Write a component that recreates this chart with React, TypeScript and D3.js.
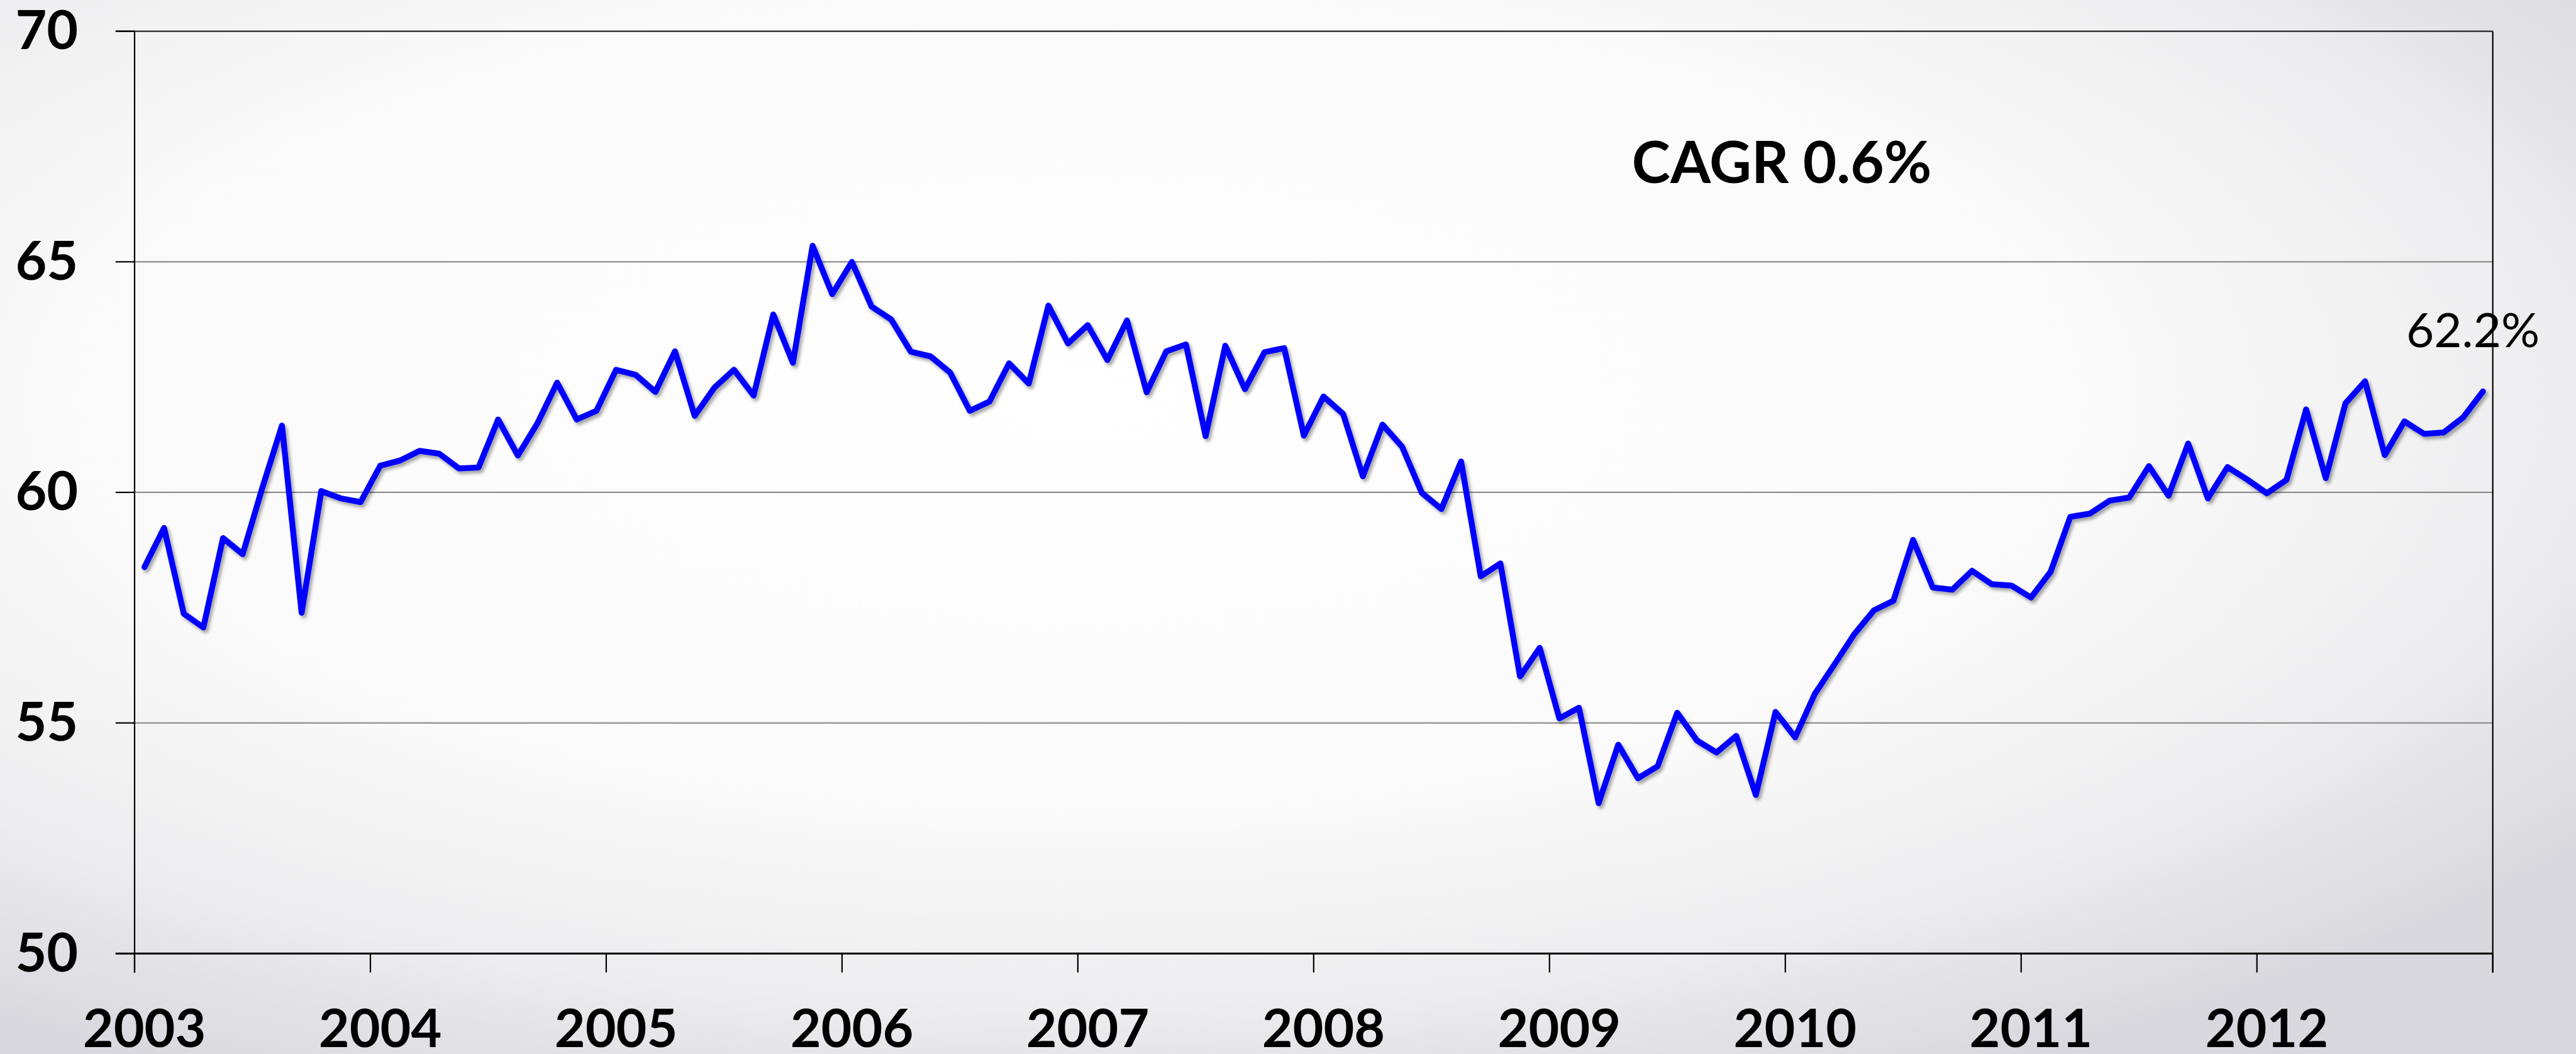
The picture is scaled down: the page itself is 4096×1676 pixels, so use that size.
import * as d3 from "d3";

const years = ["2003", "2004", "2005", "2006", "2007", "2008", "2009", "2010", "2011", "2012"];

// monthly values
const values2003 = [58.38, 59.23, 57.37, 57.07, 59.01, 58.66, 60.1, 61.45, 57.39, 60.03, 59.87, 59.79];
const values2004 = [60.58, 60.69, 60.9, 60.84, 60.52, 60.54, 61.58, 60.8, 61.5, 62.38, 61.58, 61.77];
const values2005 = [62.66, 62.55, 62.18, 63.06, 61.66, 62.27, 62.66, 62.1, 63.86, 62.81, 65.35, 64.3];
const values2006 = [65.0, 64.03, 63.75, 63.05, 62.95, 62.6, 61.77, 61.97, 62.8, 62.36, 64.05, 63.23];
const values2007 = [63.63, 62.87, 63.73, 62.17, 63.06, 63.21, 61.22, 63.18, 62.24, 63.04, 63.13, 61.23];
const values2008 = [62.08, 61.7, 60.35, 61.47, 60.99, 59.99, 59.64, 60.67, 58.18, 58.46, 56.01, 56.63];
const values2009 = [55.1, 55.33, 53.26, 54.53, 53.8, 54.06, 55.22, 54.62, 54.36, 54.72, 53.44, 55.24];
const values2010 = [54.69, 55.63, 56.27, 56.92, 57.44, 57.65, 58.97, 57.94, 57.89, 58.3, 58.01, 57.98];
const values2011 = [57.72, 58.28, 59.47, 59.54, 59.82, 59.89, 60.57, 59.93, 61.06, 59.87, 60.55, 60.28];
const values2012 = [59.98, 60.27, 61.8, 60.31, 61.93, 62.41, 60.81, 61.54, 61.27, 61.3, 61.63, 62.19];

const yTicks = [50, 55, 60, 65, 70];
const cagrLabel = "CAGR 0.6%";
const lastLabel = "62.2%";

const series = [
  ...values2003, ...values2004, ...values2005, ...values2006, ...values2007,
  ...values2008, ...values2009, ...values2010, ...values2011, ...values2012,
];

// reference-size canvas, scaled down by the viewBox
const W = 4614;
const H = 1888;
const left = 241;
const right = 4465;
const top = 56;
const bottom = 1708;
const font = "Lato, 'Open Sans', sans-serif";

export default function App() {
  const x = d3
    .scaleBand<number>()
    .domain(d3.range(series.length))
    .range([left, right])
    .padding(0);
  const y = d3.scaleLinear().domain([50, 70]).range([bottom, top]);
  const cx = (i: number) => (x(i) ?? 0) + x.bandwidth() / 2;

  const line = d3
    .line<number>()
    .x((_, i) => cx(i))
    .y((d) => y(d));

  const yearTicks = years.map((_, k) => x(k * 12) ?? 0).concat([right]);

  return (
    <svg
      width={4096}
      height={1676}
      viewBox={`0 0 ${W} ${H}`}
      style={{ position: "fixed", left: 0, top: 0, display: "block" }}
    >
      <defs>
        <radialGradient id="bg" cx="0.42" cy="0.38" r="0.72">
          <stop offset="0" stopColor="#ffffff" />
          <stop offset="0.55" stopColor="#fafafa" />
          <stop offset="0.8" stopColor="#ededef" />
          <stop offset="1" stopColor="#d8d8de" />
        </radialGradient>
        <filter id="shadow" x="-5%" y="-5%" width="110%" height="120%">
          <feDropShadow dx="4" dy="5" stdDeviation="3" floodColor="#000" floodOpacity="0.35" />
        </filter>
      </defs>
      <rect x={0} y={0} width={W} height={H} fill="url(#bg)" />

      {/* gridlines */}
      {yTicks
        .filter((v) => v !== 50 && v !== 70)
        .map((v) => (
          <line key={v} x1={left} x2={right} y1={y(v)} y2={y(v)} stroke="#8e8e8e" strokeWidth={2.5} />
        ))}

      {/* plot border / axes */}
      <line x1={207} x2={right} y1={top} y2={top} stroke="#3a3a3a" strokeWidth={3} />
      <line x1={left} x2={left} y1={top} y2={bottom + 34} stroke="#000" strokeWidth={2.5} />
      <line x1={right} x2={right} y1={top} y2={bottom + 34} stroke="#000" strokeWidth={2.5} />
      {yTicks.map((v) => (
        <line key={v} x1={207} x2={left} y1={y(v)} y2={y(v)} stroke="#000" strokeWidth={2.5} />
      ))}
      {yearTicks.map((t, k) => (
        <line key={k} x1={t} x2={t} y1={bottom} y2={bottom + 34} stroke="#000" strokeWidth={2.5} />
      ))}
      <line x1={207} x2={right} y1={bottom} y2={bottom} stroke="#000" strokeWidth={3.5} />

      {/* y labels */}
      {yTicks.map((v) => (
        <text
          key={v}
          x={140}
          y={y(v) + 32}
          textAnchor="end"
          fontFamily={font}
          fontWeight="bold"
          fontSize={97}
          fill="#000"
        >
          {v}
        </text>
      ))}

      {/* year labels */}
      {years.map((yr, k) => (
        <text
          key={yr}
          x={cx(k * 12)}
          y={1876}
          textAnchor="middle"
          fontFamily={font}
          fontWeight="bold"
          fontSize={95}
          fill="#000"
        >
          {yr}
        </text>
      ))}

      {/* series */}
      <path
        d={line(series) ?? ""}
        fill="none"
        stroke="#0000ff"
        strokeWidth={10.5}
        strokeLinejoin="round"
        strokeLinecap="round"
        filter="url(#shadow)"
      />

      <text x={2923} y={328} fontFamily={font} fontWeight="bold" fontSize={104} fill="#000">
        {cagrLabel}
      </text>
      <text x={4310} y={622} fontFamily={font} fontSize={86} fill="#000">
        {lastLabel}
      </text>
    </svg>
  );
}
